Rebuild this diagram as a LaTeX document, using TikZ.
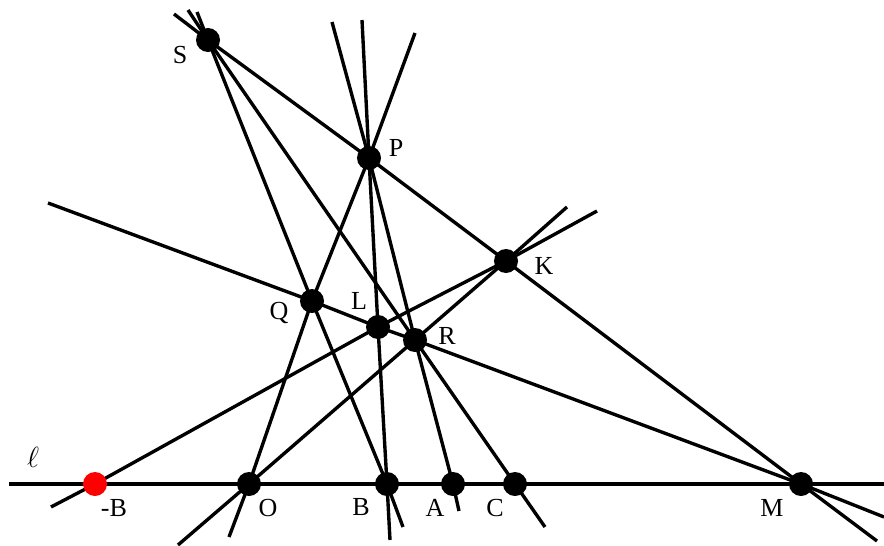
\documentclass[tikz,border=0pt]{standalone}
\usepackage{fontspec}
\setmainfont{Liberation Serif}
\usepackage{tikz}
\usetikzlibrary{calc}

\begin{document}
\begin{tikzpicture}[x=0.025cm, y=-0.025cm, line width=2.4pt,
  font=\fontsize{18.5}{20}\selectfont,
  lbl/.style={inner sep=0pt}]
  \useasboundingbox (0,0) rectangle (884,546);

  % Body
  \coordinate (S) at (208,40);
  \coordinate (P) at (369,158);
  \coordinate (K) at (506,261);
  \coordinate (Q) at (312,301);
  \coordinate (L) at (378,327);
  \coordinate (R) at (415,340);
  \coordinate (mB) at (95,484);
  \coordinate (O) at (249,484);
  \coordinate (B) at (387,484);
  \coordinate (A) at (453,484);
  \coordinate (C) at (515,484);
  \coordinate (M) at (801,484);

  % volne konce primek
  \coordinate (lw) at (9,484);
  \coordinate (le) at (884,484);
  \coordinate (smTop) at (174,14);
  \coordinate (smEnd) at (877,541);
  \coordinate (sbTop) at (197,12);
  \coordinate (sbEnd) at (403,527);
  \coordinate (scTop) at (188,10);
  \coordinate (scEnd) at (545,527);
  \coordinate (poTop) at (415,33);
  \coordinate (poEnd) at (229,537);
  \coordinate (pbTop) at (362,20);
  \coordinate (pbEnd) at (390,540);
  \coordinate (paTop) at (332,22);
  \coordinate (paEnd) at (459,511);
  \coordinate (qmW) at (48,203);
  \coordinate (qmE) at (884,517);
  \coordinate (bkW) at (51,507);
  \coordinate (bkE) at (597,211);
  \coordinate (okW) at (178,545);
  \coordinate (okE) at (567,207);

  % Primka l
  \draw (lw) -- (le);

  % Primky z S
  \draw (smTop) -- (S) -- (P) -- (K) -- (M) -- (smEnd);
  \draw (sbTop) -- (S) -- (Q) -- (B) -- (sbEnd);
  \draw (scTop) -- (S) -- (R) -- (C) -- (scEnd);

  % Primky z P
  \draw (poTop) -- (P) -- (Q) -- (O) -- (poEnd);
  \draw (pbTop) -- (P) -- (L) -- (B) -- (pbEnd);
  \draw (paTop) -- (P) -- (R) -- (A) -- (paEnd);

  % Ostatni primky
  \draw (qmW) -- (Q) -- (L) -- (R) -- (M) -- (qmE);
  \draw (bkW) -- (mB) -- (L) -- (K) -- (bkE);
  \draw (okW) -- (O) -- (R) -- (K) -- (okE);

  % Body
  \foreach \p in {S,P,K,Q,L,R,O,B,A,C,M}
    \fill (\p) circle (0.3cm);
  \fill[red] (mB) circle (0.3cm);

  % Popisky
  \node[lbl] (tS) at (180,55) {S};
  \node[lbl] (tP) at (396,148) {P};
  \node[lbl] (tK) at (544,266) {K};
  \node[lbl] (tQ) at (279,313) {Q};
  \node[lbl] (tL) at (359,301) {L};
  \node[lbl] (tR) at (447,336) {R};
  \node[lbl] (tmB) at (114,508) {-B};
  \node[lbl] (tO) at (268,508) {O};
  \node[lbl] (tB) at (361,507) {B};
  \node[lbl] (tA) at (435,508) {A};
  \node[lbl] (tC) at (495,508) {C};
  \node[lbl] (tM) at (772,508) {M};
  \node[lbl, font=\fontsize{22}{24}\selectfont] (tl) at (33,457) {$\ell$};
\end{tikzpicture}
\end{document}
